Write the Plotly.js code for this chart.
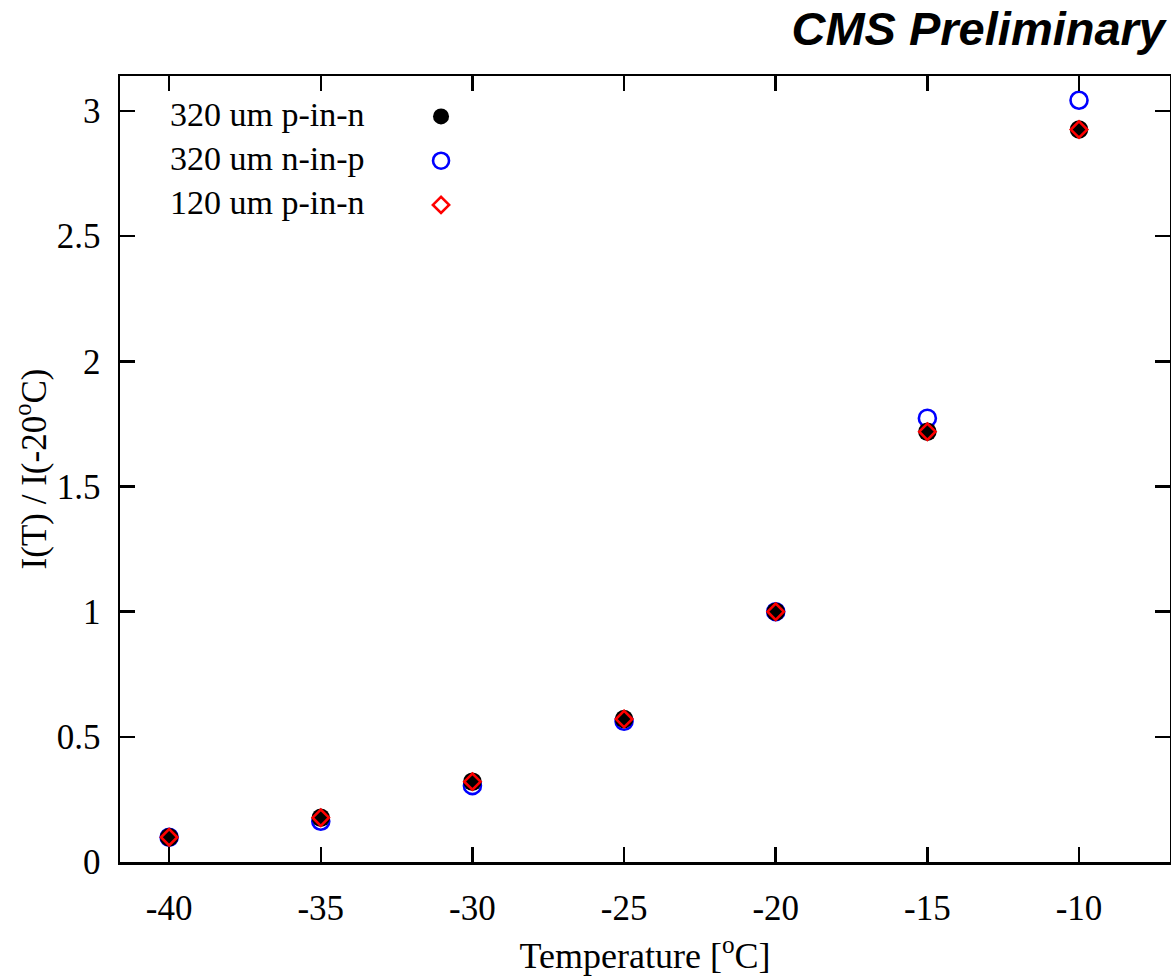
<!DOCTYPE html>
<html>
<head>
<meta charset="utf-8">
<script src="https://cdn.plot.ly/plotly-3.0.1.min.js"></script>
<style>html,body{margin:0;padding:0;background:#fff;}#chart{width:1171px;height:976px;}</style>
</head>
<body>
<div id="chart"></div>
<script>
// Data
const temperatures = [-40, -35, -30, -25, -20, -15, -10];
const ratio320pinn = [0.099, 0.177, 0.321, 0.571, 1.0, 1.719, 2.926];
const ratio320ninp = [0.099, 0.163, 0.305, 0.562, 1.0, 1.773, 3.043];
const ratio120pinn = [0.099, 0.177, 0.321, 0.571, 1.0, 1.719, 2.926];
const seriesNames = ['320 um p-in-n', '320 um n-in-p', '120 um p-in-n'];
const xTicks = [-40, -35, -30, -25, -20, -15, -10];
const yTicks = [0, 0.5, 1, 1.5, 2, 2.5, 3];
const yTickText = ['0', '0.5', '1', '1.5', '2', '2.5', '3'];

const serif = '"Liberation Serif", "Times New Roman", serif';

const traces = [
  { // blue drawn first (behind)
    x: temperatures, y: ratio320ninp, type: 'scatter', mode: 'markers', name: ' ',
    legendrank: 2, cliponaxis: false,
    marker: {symbol: 'circle-open', size: 17, color: '#0000ff', line: {width: 2.6, color: '#0000ff'}}
  },
  {
    x: temperatures, y: ratio320pinn, type: 'scatter', mode: 'markers', name: ' ',
    legendrank: 1, cliponaxis: false,
    marker: {symbol: 'circle', size: 18.5, color: '#000000', line: {width: 0}}
  },
  {
    x: temperatures, y: ratio120pinn, type: 'scatter', mode: 'markers', name: ' ',
    legendrank: 3, cliponaxis: false,
    marker: {symbol: 'diamond-open', size: 12.5, color: '#ff0000', line: {width: 2.6, color: '#ff0000'}}
  }
];

// Legend labels drawn as one left-aligned text block (text left, symbols right, as in the reference)
const annotations = [{
  xref: 'paper', yref: 'paper', x: 0.0457, y: 0.9491,
  xanchor: 'left', yanchor: 'top', yshift: 22, showarrow: false, align: 'left',
  text: seriesNames.join('<br>'),
  font: {family: serif, size: 34, color: '#000'}
}];

const layout = {
  width: 1171, height: 976,
  margin: {l: 120, r: 1, t: 76, b: 114},
  paper_bgcolor: '#fff', plot_bgcolor: '#fff',
  showlegend: true,
  legend: {
    x: 0.2867, y: 0.983, xanchor: 'left', yanchor: 'top',
    bgcolor: 'rgba(0,0,0,0)', borderwidth: 0,
    font: {family: serif, size: 31.7, color: '#000'},
    itemsizing: 'trace', traceorder: 'normal'
  },
  title: {
    text: '<b><i>CMS Preliminary</i></b>',
    x: 0.9949, xanchor: 'right', xref: 'container',
    y: 0.971, yanchor: 'middle', yref: 'container',
    font: {family: '"Liberation Sans", Arial, sans-serif', size: 47, color: '#000'}
  },
  xaxis: {
    range: [-41.62, -7.0],
    tickvals: xTicks,
    ticktext: xTicks.map(String),
    ticks: 'inside', ticklen: 15, tickwidth: 2.5, tickcolor: '#000',
    showline: true, linecolor: '#000', linewidth: 2.5, mirror: 'ticks',
    showgrid: false, zeroline: false,
    ticklabelstandoff: 13,
    tickfont: {family: serif, size: 35, color: '#000'},
    title: {text: 'Temperature [<sup>o</sup>C]', font: {family: serif, size: 36, color: '#000'}, standoff: 20}
  },
  yaxis: {
    range: [0, 3.14],
    tickvals: yTicks,
    ticktext: yTickText,
    ticks: 'inside', ticklen: 15, tickwidth: 2.5, tickcolor: '#000',
    showline: true, linecolor: '#000', linewidth: 2.5, mirror: 'ticks',
    showgrid: false, zeroline: false,
    ticklabelstandoff: 10,
    tickfont: {family: serif, size: 35, color: '#000'},
    title: {text: 'I(T) / I(-20<sup>o</sup>C)', font: {family: serif, size: 35, color: '#000'}, standoff: 0}
  },
  annotations: annotations
};

Plotly.newPlot('chart', traces, layout, {displayModeBar: false, staticPlot: true});
</script>
</body>
</html>
